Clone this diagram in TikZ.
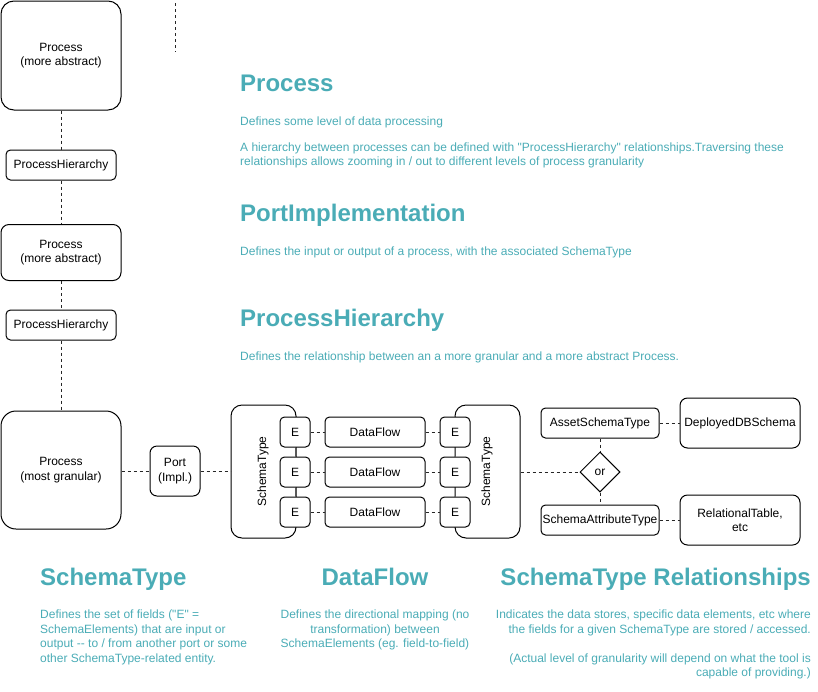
\documentclass[tikz,border=0pt]{standalone}
\usepackage{fontspec}
\newfontfamily\lsans{Liberation Sans}
\usetikzlibrary{shapes.geometric}
\definecolor{teal1}{RGB}{74,172,182}
\begin{document}
\begin{tikzpicture}[x=1pt,y=-1pt,
  box/.style={draw=black, line width=1pt, fill=white, inner sep=0pt, align=center,
    font=\lsans\fontsize{12}{14.5}\selectfont},
  lbl/.style={inner sep=0pt, font=\lsans\fontsize{12}{14.5}\selectfont},
  conn/.style={draw=black!85, line width=1pt, dash pattern=on 3pt off 3pt},
  link/.style={draw=black!65, line width=1pt},
  head/.style={text=teal1, font=\lsans\bfseries\fontsize{24}{28}\selectfont, inner sep=0pt},
  body/.style={text=teal1, font=\lsans\fontsize{12}{14.7}\selectfont, inner sep=0pt},
]
\useasboundingbox (0,0) rectangle (818,691);

% left column
\node[box, minimum width=120pt, minimum height=109pt, rounded corners=13pt] (pA) at (61,55.5) {Process\\(more abstract)};
\node[box, minimum width=110pt, minimum height=30pt, rounded corners=4.5pt] (ph1) at (61,165) {ProcessHierarchy};
\node[box, minimum width=120pt, minimum height=56pt, rounded corners=8pt] (pB) at (61,252.5) {Process\\(more abstract)};
\node[box, minimum width=110pt, minimum height=30pt, rounded corners=4.5pt] (ph2) at (61,325) {ProcessHierarchy};
\node[box, minimum width=120pt, minimum height=118pt, rounded corners=15pt] (pC) at (61,470) {Process\\(most granular)};
\node[box, minimum width=50pt, minimum height=50pt, rounded corners=7pt] (port) at (175,471) {Port\\(Impl.)};

\coordinate (t1) at (175,3);
\coordinate (t2) at (175,52);
\draw[conn] (t1) -- (t2);
\draw[conn] (pA.south) -- (ph1.north);
\draw[conn] (ph1.south) -- (pB.north);
\draw[conn] (pB.south) -- (ph2.north);
\draw[conn] (ph2.south) -- (pC.north);
\draw[conn] (port.west -| pC.east) -- (port.west);

% schema types
\node[box, minimum width=65pt, minimum height=133pt, rounded corners=11pt] (stL) at (263.5,471.5) {};
\node[lbl, rotate=90] (stLt) at (263,471.5) {SchemaType};
\node[box, minimum width=65pt, minimum height=133pt, rounded corners=11pt] (stR) at (487.5,471.5) {};
\node[lbl, rotate=90] (stRt) at (487,471.5) {SchemaType};
\draw[conn] (port.east) -- (stL.west |- port.east);

\foreach \i/\y in {1/432,2/472,3/512}{
  \node[box, minimum width=30pt, minimum height=30pt, rounded corners=4.5pt] (eL\i) at (295,\y) {E};
  \node[box, minimum width=30pt, minimum height=30pt, rounded corners=4.5pt] (eR\i) at (455,\y) {E};
  \node[box, minimum width=100pt, minimum height=30pt, rounded corners=4.5pt] (df\i) at (375,\y) {DataFlow};
  \draw[conn] (eL\i.east) -- (df\i.west);
  \draw[conn] (df\i.east) -- (eR\i.west);
}
\draw[link] (eL1.south) -- (eL2.north);
\draw[link] (eL2.south) -- (eL3.north);
\draw[link] (eR1.south) -- (eR2.north);
\draw[link] (eR2.south) -- (eR3.north);

% relationships
\node[box, diamond, minimum size=40pt] (or) at (600,472) {or};
\node[box, minimum width=118pt, minimum height=30pt, rounded corners=4.5pt] (ast) at (600,423) {AssetSchemaType};
\node[box, minimum width=118pt, minimum height=30pt, rounded corners=4.5pt] (sat) at (600,520) {SchemaAttributeType};
\node[box, minimum width=120pt, minimum height=50pt, rounded corners=7.5pt] (dep) at (740,423) {DeployedDBSchema};
\node[box, minimum width=120pt, minimum height=50pt, rounded corners=7.5pt] (rel) at (740,520) {RelationalTable,\\etc};
\draw[conn] (stR.east |- or.west) -- (or.west);
\draw[conn] (ast.south) -- (or.north);
\draw[conn] (or.south) -- (sat.north);
\draw[conn] (ast.east) -- (dep.west);
\draw[conn] (sat.east) -- (rel.west);

% texts (multi-line nodes: base anchor = baseline of last line)
\node[head, anchor=base west] (hProc) at (240,91.5) {Process};
\node[body, anchor=base west] (tProc1) at (240,125.3) {Defines some level of data processing};
\node[body, anchor=base west, align=left] (tProc2) at (240,165.8) {A hierarchy between processes can be defined with "ProcessHierarchy" relationships.Traversing these\\relationships allows zooming in / out to different levels of process granularity};
\node[head, anchor=base west] (hPort) at (240,221.5) {PortImplementation};
\node[body, anchor=base west] (tPort) at (240,255.3) {Defines the input or output of a process, with the associated SchemaType};
\node[head, anchor=base west] (hPH) at (240,326.5) {ProcessHierarchy};
\node[body, anchor=base west] (tPH) at (240,360.3) {Defines the relationship between an a more granular and a more abstract Process.};

\node[head, anchor=base west] (hST) at (40,585.5) {SchemaType};
\node[body, anchor=base west, align=left] (tST) at (40,662.4) {Defines the set of fields ("E" =\\SchemaElements) that are input or\\output -- to / from another port or some\\other SchemaType-related entity.};
\node[head, anchor=base] (hDF) at (375,585.5) {DataFlow};
\node[body, anchor=base, align=center] (tDF) at (375,647.7) {Defines the directional mapping (no\\transformation) between\\SchemaElements (eg. field-to-field)};
\node[head, anchor=base east] (hSTR) at (811,585.5) {SchemaType Relationships};
\node[body, anchor=base east, align=right] (tSTR) at (811,676.7) {Indicates the data stores, specific data elements, etc where\\the fields for a given SchemaType are stored / accessed.\\[14.3pt](Actual level of granularity will depend on what the tool is\\capable of providing.)};
\end{tikzpicture}
\end{document}
